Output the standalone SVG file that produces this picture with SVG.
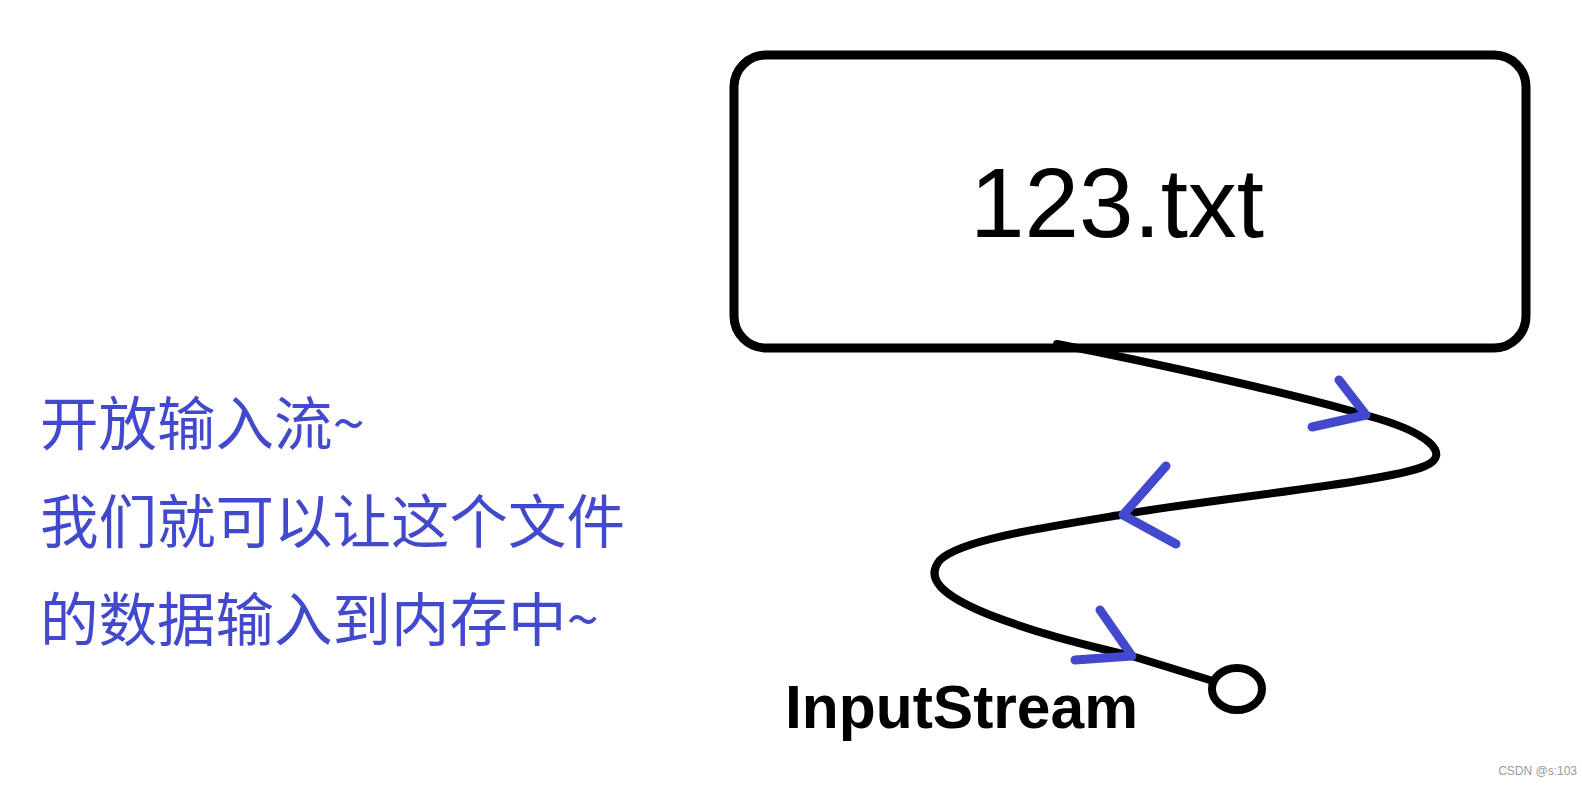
<svg xmlns="http://www.w3.org/2000/svg" width="1582" height="789" viewBox="0 0 1582 789">
<style>
.box{fill:#fff;stroke:#000;stroke-width:9}
.flow{fill:none;stroke:#000;stroke-width:8;stroke-linecap:round;stroke-linejoin:round}
.arr{fill:none;stroke:#4249CC;stroke-width:9;stroke-linecap:round;stroke-linejoin:round}
.note{font-family:"Noto Sans CJK SC","Noto Sans",sans-serif;font-size:58.5px;fill:#4249CC}
</style>
<rect width="1582" height="789" fill="#fff"/>
<g id="file-node">
<rect class="box" x="734" y="55" width="792" height="293" rx="32" ry="32"/>
<text x="1117" y="237" text-anchor="middle" font-family="Liberation Sans, Arial, sans-serif" font-size="98" fill="#000">123.txt</text>
</g>
<g id="connectors">
<path class="flow" d="M1057,344 C1150,362 1290,393 1365,415 C1430,432 1452,455 1425,466 C1390,482 1200,500 1120,515 C1040,528 960,540 940,560 C925,578 940,595 990,615 C1050,638 1100,648 1135,657 L1213,681"/>
<polyline class="arr" points="1312,427 1366,415 1339,380"/>
<polyline class="arr" points="1166,466 1123,515 1176,544"/>
<polyline class="arr" points="1100,610 1132,656 1075,660"/>
</g>
<g id="stream-node">
<ellipse cx="1237" cy="689" rx="25" ry="21" fill="#fff" stroke="#000" stroke-width="8"/>
<text x="785" y="728" font-family="Liberation Sans, Arial, sans-serif" font-weight="bold" font-size="60.5" fill="#000">InputStream</text>
</g>
<g id="note">
<text class="note" x="40" y="445">开放输入流~</text>
<text class="note" x="40" y="543">我们就可以让这个文件</text>
<text class="note" x="40" y="641">的数据输入到内存中~</text>
</g>
<text x="1577" y="775" text-anchor="end" font-family="Liberation Sans, Arial, sans-serif" font-size="12" fill="#999">CSDN @s:103</text>
</svg>
